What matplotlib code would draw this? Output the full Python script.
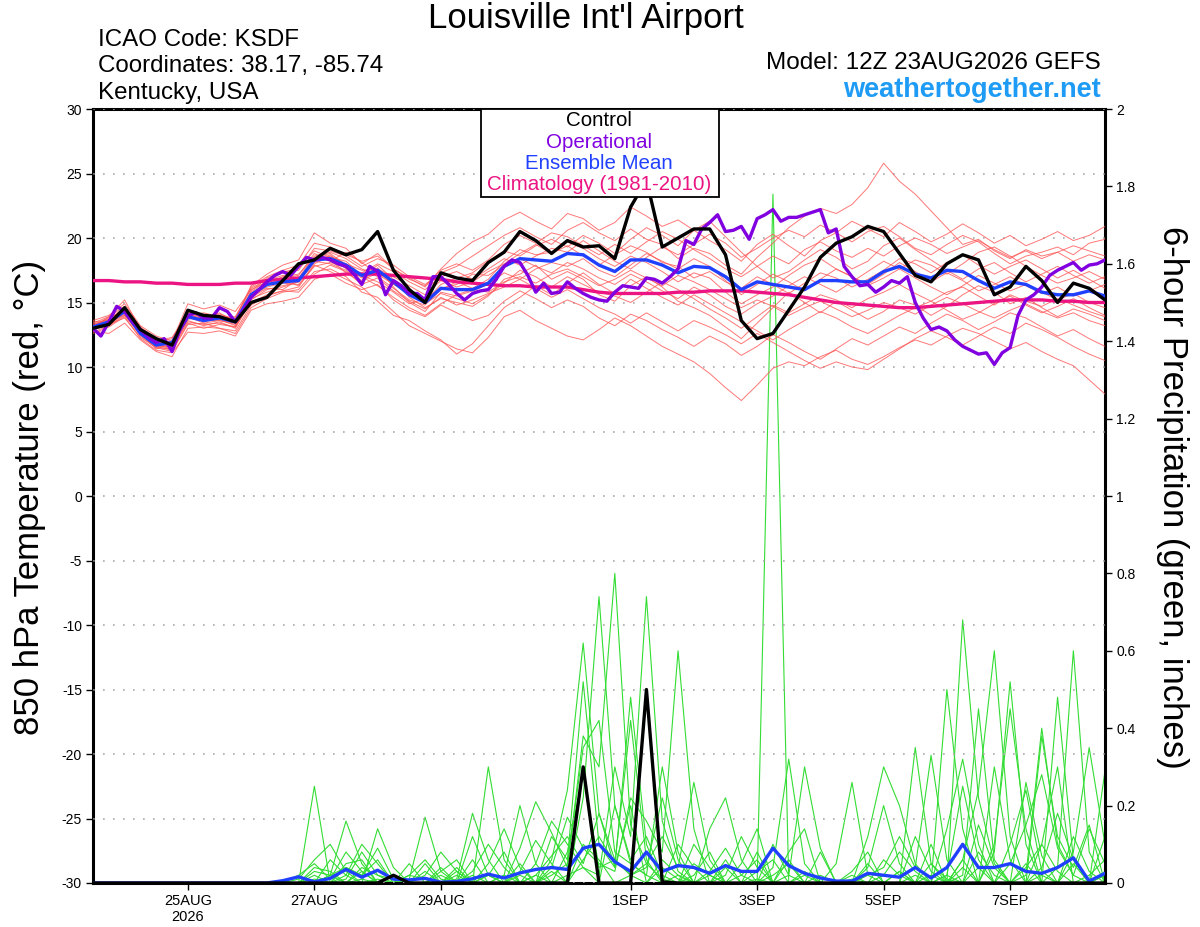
"""GEFS plume for Louisville Int'l Airport: 850 hPa temperature and 6-hour precipitation."""
import matplotlib

matplotlib.use("Agg")
import matplotlib.pyplot as plt
import pandas as pd
from matplotlib.patches import Rectangle

plt.rcParams["font.family"] = ["Liberation Sans", "DejaVu Sans"]
plt.rcParams["axes.unicode_minus"] = False

# 6-hourly ensemble times, 3-hourly operational times
times = pd.date_range("2026-08-23 12:00", periods=65, freq="6h")
times_op = pd.date_range("2026-08-23 12:00", periods=129, freq="3h")

# 850 hPa temperature (C)
t_control = [13.0, 13.3, 14.6, 12.9, 12.2, 11.7, 14.4, 14.0, 13.9, 13.5,
             15.0, 15.4, 16.7, 18.0, 18.3, 19.2, 18.7, 19.1, 20.5, 17.5,
             16.0, 15.0, 17.3, 16.9, 16.7, 18.1, 18.9, 20.5, 19.8, 18.8,
             19.8, 19.3, 19.4, 18.4, 22.4, 24.5, 19.3, 20.0, 20.7, 20.7,
             18.7, 13.6, 12.2, 12.6, 14.4, 16.2, 18.5, 19.6, 20.1, 20.9,
             20.5, 18.8, 17.1, 16.6, 18.0, 18.7, 18.3, 15.6, 16.2, 17.8,
             16.7, 15.0, 16.5, 16.1, 15.2]
t_mean = [13.1, 13.5, 14.3, 12.6, 11.7, 11.9, 13.9, 13.6, 13.8, 13.5,
          15.6, 16.4, 16.6, 16.7, 18.3, 18.4, 17.9, 17.1, 17.5, 16.6,
          15.6, 15.0, 16.1, 16.0, 16.0, 16.5, 17.8, 18.4, 18.3, 18.2,
          18.8, 18.7, 17.9, 17.4, 18.3, 18.3, 17.9, 17.3, 17.8, 17.7,
          17.0, 16.0, 16.6, 16.4, 16.2, 16.0, 16.7, 16.7, 16.6, 16.6,
          17.4, 17.8, 17.2, 16.9, 17.5, 17.4, 16.7, 16.1, 16.6, 16.4,
          15.8, 15.6, 15.6, 15.9, 15.5]
t_clim = [16.7, 16.7, 16.6, 16.6, 16.5, 16.5, 16.4, 16.4, 16.4, 16.5,
          16.5, 16.7, 16.8, 16.9, 17.0, 17.1, 17.2, 17.2, 17.2, 17.1,
          17.0, 16.9, 16.8, 16.6, 16.5, 16.4, 16.3, 16.3, 16.2, 16.2,
          16.2, 16.0, 15.8, 15.7, 15.7, 15.7, 15.7, 15.8, 15.8, 15.9,
          15.9, 15.9, 15.8, 15.7, 15.6, 15.4, 15.2, 15.0, 14.9, 14.8,
          14.7, 14.6, 14.6, 14.7, 14.8, 14.9, 15.0, 15.1, 15.2, 15.2,
          15.2, 15.1, 15.1, 15.0, 15.0]
t_oper = [13.0, 12.4, 13.5, 14.7, 14.3, 13.5, 12.9, 12.3, 11.9, 12.2,
          11.2, 12.9, 14.0, 14.2, 13.8, 13.8, 14.6, 14.3, 13.5, 14.4,
          15.4, 16.0, 16.6, 17.1, 17.4, 17.1, 17.8, 18.5, 18.3, 18.5,
          18.3, 18.0, 17.8, 17.2, 16.4, 17.8, 17.4, 15.6, 16.7, 16.3,
          15.7, 15.7, 15.2, 17.0, 17.0, 16.4, 15.7, 15.2, 15.7, 15.9,
          16.0, 16.8, 17.8, 18.3, 18.1, 17.1, 15.8, 16.5, 15.7, 15.8,
          16.6, 16.1, 15.7, 15.4, 15.2, 15.1, 15.8, 16.3, 16.2, 16.1,
          16.9, 16.8, 16.5, 17.0, 17.6, 19.8, 19.5, 20.7, 21.2, 21.8,
          20.5, 20.6, 20.9, 19.9, 21.5, 21.8, 22.2, 21.3, 21.6, 21.6,
          21.8, 22.0, 22.2, 20.4, 20.7, 17.8, 17.0, 16.3, 16.4, 15.8,
          16.2, 16.7, 16.5, 17.0, 15.0, 13.8, 12.9, 13.1, 12.8, 12.1,
          11.6, 11.3, 11.0, 11.1, 10.2, 11.1, 11.5, 14.0, 15.2, 15.6,
          16.2, 17.1, 17.5, 17.8, 18.1, 17.5, 17.9, 18.0, 18.3]

t_members = [
    [13.4, 13.9, 15.2, 12.9, 11.9, 12.2, 14.3, 13.8, 14.1, 13.7, 15.9, 16.9, 17.4, 17.5, 19.2, 19.0, 18.6, 17.8, 18.4, 17.9,
     17.0, 16.4, 17.3, 17.8, 18.6, 19.4, 20.2, 20.8, 20.1, 19.5, 20.6, 21.2, 20.4, 19.8, 20.7, 19.9, 19.5, 18.4, 19.2, 18.8,
     17.9, 17.2, 18.5, 19.6, 20.8, 21.7, 22.3, 21.9, 22.6, 23.9, 25.8, 24.4, 23.4, 22.1, 20.8, 19.5, 19.9, 19.0, 18.4, 19.1,
     18.6, 18.9, 19.4, 19.0, 18.6],
    [12.8, 12.6, 13.4, 12.1, 11.2, 10.8, 13.0, 13.1, 13.0, 12.6, 14.6, 15.3, 15.8, 16.0, 17.4, 17.6, 17.0, 15.8, 15.4, 14.3,
     13.2, 12.6, 12.0, 11.4, 11.1, 12.3, 13.9, 14.4, 13.6, 13.0, 12.4, 12.1, 12.9, 13.8, 13.2, 12.4, 11.6, 11.0, 10.4, 9.5,
     8.4, 7.4, 8.6, 9.9, 10.4, 10.1, 10.8, 11.3, 10.6, 10.2, 10.8, 11.5, 12.1, 11.7, 12.4, 13.0, 12.6, 12.0, 11.4, 11.9,
     11.2, 10.6, 10.1, 9.0, 7.9],
    [13.2, 13.8, 14.4, 13.0, 12.1, 11.6, 14.0, 14.2, 13.9, 13.8, 16.3, 17.2, 17.9, 18.3, 20.4, 19.6, 19.2, 18.0, 18.8, 17.6,
     16.9, 16.2, 17.6, 18.8, 19.7, 20.3, 21.4, 22.0, 21.3, 20.7, 21.9, 21.5, 20.6, 21.2, 22.4, 21.7, 20.9, 21.4, 20.6, 19.8,
     19.1, 18.2, 19.5, 20.3, 19.4, 18.6, 19.8, 20.4, 19.7, 20.5, 20.9, 20.1, 19.2, 18.7, 19.5, 20.2, 19.7, 18.8, 18.0, 18.6,
     18.9, 19.3, 18.7, 19.6, 19.9],
    [12.9, 13.4, 14.1, 12.4, 11.5, 11.4, 13.6, 13.2, 13.5, 13.0, 15.2, 16.0, 16.3, 16.6, 18.1, 18.7, 17.6, 16.9, 17.9, 16.8,
     15.4, 14.6, 15.3, 15.0, 14.7, 15.5, 16.8, 17.2, 17.9, 16.8, 17.4, 16.8, 15.6, 15.1, 16.3, 17.0, 16.2, 15.1, 14.6, 14.0,
     13.1, 12.2, 13.4, 14.6, 15.8, 15.0, 14.2, 15.1, 14.4, 13.7, 14.3, 15.2, 14.8, 14.0, 14.7, 15.6, 16.3, 15.8, 14.9, 15.4,
     14.6, 13.9, 14.5, 14.1, 13.6],
    [13.6, 14.0, 14.9, 13.2, 12.4, 12.0, 14.9, 14.5, 14.8, 14.3, 16.0, 16.6, 16.9, 17.1, 18.8, 18.2, 18.9, 18.1, 17.2, 16.4,
     15.7, 15.1, 16.4, 16.9, 17.3, 18.2, 19.0, 18.6, 19.4, 19.9, 19.3, 20.2, 19.6, 18.8, 19.9, 20.8, 20.2, 19.4, 20.6, 21.3,
     20.1, 18.9, 17.8, 16.9, 17.4, 18.3, 19.1, 18.5, 17.6, 18.2, 19.4, 20.0, 19.1, 18.3, 17.5, 16.8, 17.6, 18.1, 17.3, 16.6,
     17.2, 17.8, 17.1, 16.5, 17.0],
    [12.6, 13.1, 13.9, 12.2, 11.3, 11.1, 12.7, 12.6, 12.8, 12.4, 14.4, 14.9, 15.1, 15.4, 16.8, 17.2, 16.5, 16.0, 16.4, 15.2,
     14.4, 13.9, 14.8, 14.2, 13.6, 14.0, 15.1, 15.9, 15.3, 14.6, 15.2, 14.7, 13.8, 13.2, 14.1, 13.6, 12.9, 12.3, 11.6, 12.4,
     11.8, 10.9, 11.6, 12.5, 11.9, 11.2, 10.6, 11.4, 12.2, 11.7, 12.4, 13.1, 12.6, 13.4, 14.1, 13.6, 12.9, 13.5, 14.2, 13.8,
     13.1, 12.4, 12.9, 12.2, 11.6],
    [13.3, 13.7, 14.5, 12.8, 12.0, 12.3, 14.1, 13.7, 14.0, 13.6, 15.8, 16.7, 17.1, 16.9, 18.6, 18.9, 18.4, 17.6, 17.0, 16.1,
     15.2, 14.8, 16.0, 16.6, 16.1, 16.8, 18.2, 19.1, 18.7, 18.9, 19.7, 19.2, 18.4, 17.8, 18.6, 18.1, 17.4, 16.6, 17.3, 16.9,
     15.8, 14.9, 15.6, 16.2, 17.1, 17.9, 18.4, 17.6, 17.0, 16.3, 16.9, 17.6, 18.3, 17.9, 17.2, 18.0, 18.9, 19.3, 18.6, 17.8,
     17.1, 16.5, 16.9, 17.4, 16.8],
    [12.7, 13.2, 14.0, 12.5, 11.6, 11.3, 13.4, 13.0, 13.3, 13.1, 15.0, 15.6, 15.9, 16.2, 17.9, 17.4, 16.8, 16.2, 15.1, 14.0,
     13.6, 12.8, 12.1, 11.0, 11.8, 13.2, 14.6, 15.4, 16.3, 15.6, 16.5, 17.3, 16.4, 15.7, 16.8, 16.1, 15.4, 14.8, 15.6, 14.9,
     14.2, 13.5, 12.8, 12.1, 12.9, 13.6, 14.3, 13.8, 13.1, 12.6, 13.3, 14.0, 14.6, 15.1, 14.4, 13.7, 14.2, 14.9, 15.5, 14.8,
     14.2, 14.7, 15.3, 14.6, 14.0],
    [13.0, 13.5, 14.6, 12.7, 11.8, 11.5, 13.8, 13.6, 13.6, 13.4, 15.5, 16.2, 16.5, 16.4, 17.8, 18.1, 17.7, 17.3, 18.0, 17.4,
     16.6, 16.0, 17.0, 17.4, 16.8, 17.6, 18.4, 17.9, 18.6, 19.2, 18.9, 19.8, 19.0, 18.2, 17.6, 18.5, 19.3, 18.7, 19.5, 20.3,
     19.6, 18.5, 19.2, 20.0, 20.6, 20.1, 21.0, 20.4, 21.3, 20.7, 20.1, 21.2, 20.5, 19.7, 20.3, 21.1, 20.4, 19.6, 20.2, 19.4,
     19.9, 20.5, 19.8, 20.2, 20.9],
    [13.5, 13.6, 14.2, 12.6, 11.4, 11.8, 13.7, 13.9, 13.7, 13.2, 15.4, 16.1, 16.0, 16.8, 18.4, 18.3, 17.3, 16.6, 17.7, 16.2,
     15.0, 14.3, 15.8, 15.5, 15.9, 16.4, 17.3, 16.8, 17.6, 18.1, 17.8, 18.4, 17.5, 17.0, 17.9, 18.8, 18.2, 17.6, 18.4, 17.8,
     16.7, 15.6, 16.4, 17.2, 16.6, 15.9, 16.8, 17.6, 17.0, 16.4, 17.2, 18.1, 17.4, 16.6, 17.3, 16.7, 15.9, 16.4, 17.0, 16.3,
     15.7, 16.2, 15.5, 15.9, 16.4],
    [12.9, 13.3, 13.8, 12.3, 11.5, 11.2, 13.3, 13.4, 13.0, 12.8, 14.8, 15.5, 15.9, 15.8, 17.2, 17.9, 17.4, 16.4, 16.9, 15.9,
     15.1, 14.5, 15.4, 14.8, 15.2, 15.7, 16.2, 16.8, 16.1, 15.4, 16.0, 15.3, 14.6, 14.1, 13.4, 14.2, 13.5, 12.8, 13.6, 13.1,
     12.5, 11.8, 12.6, 11.9, 11.2, 10.5, 9.9, 10.4, 10.0, 9.8, 10.6, 11.4, 12.2, 12.8, 12.3, 11.7, 12.4, 13.1, 12.6, 13.4,
     12.9, 12.3, 11.6, 11.0, 10.5],
    [13.1, 13.9, 14.7, 13.1, 12.2, 11.9, 14.2, 13.5, 13.8, 13.9, 16.1, 16.8, 17.3, 17.7, 19.0, 18.5, 18.2, 17.1, 16.6, 15.8,
     14.9, 15.3, 16.1, 16.4, 17.2, 17.1, 17.9, 18.4, 17.8, 17.3, 18.1, 17.6, 16.9, 16.4, 17.2, 16.6, 15.9, 15.3, 16.2, 15.6,
     14.7, 14.1, 14.9, 15.5, 16.3, 17.0, 16.4, 15.8, 16.6, 17.4, 18.2, 17.6, 16.9, 16.2, 15.6, 16.3, 17.1, 16.5, 15.9, 16.4,
     15.8, 15.2, 15.7, 15.0, 14.6],
    [13.4, 13.5, 14.0, 12.7, 12.0, 11.7, 14.0, 13.8, 14.2, 13.5, 15.6, 16.4, 16.7, 16.3, 18.0, 18.6, 18.0, 17.5, 17.6, 17.0,
     16.3, 15.6, 16.7, 16.2, 16.6, 17.4, 18.0, 18.8, 19.5, 18.8, 19.4, 18.6, 17.9, 18.7, 19.4, 18.9, 18.1, 17.8, 16.9, 17.4,
     16.6, 16.1, 17.0, 16.4, 15.7, 16.5, 17.3, 16.9, 16.2, 16.8, 17.5, 18.4, 18.0, 17.3, 18.1, 18.7, 17.9, 17.2, 17.8, 18.3,
     17.6, 16.9, 17.5, 16.8, 16.1],
    [12.8, 13.6, 14.4, 12.5, 11.6, 11.6, 13.5, 13.3, 13.4, 13.1, 15.3, 15.8, 16.2, 16.6, 18.2, 18.0, 17.5, 16.7, 17.3, 16.5,
     15.8, 14.9, 15.7, 15.3, 14.9, 15.6, 16.5, 17.5, 17.0, 16.2, 17.0, 16.4, 15.8, 15.5, 15.0, 15.8, 16.6, 16.0, 15.3, 14.5,
     13.8, 13.0, 13.9, 14.8, 14.2, 14.9, 15.6, 15.2, 14.6, 15.3, 15.8, 16.4, 15.7, 15.1, 15.8, 16.2, 15.5, 14.8, 15.6, 15.1,
     14.7, 15.3, 14.8, 14.3, 13.9],
    [13.0, 13.2, 14.2, 12.6, 11.7, 11.4, 13.9, 13.4, 13.6, 13.3, 15.7, 16.5, 17.0, 17.2, 18.5, 18.8, 17.9, 17.0, 16.3, 15.4,
     14.6, 14.0, 14.9, 15.6, 16.0, 15.8, 16.6, 17.0, 16.5, 17.2, 17.6, 17.0, 16.3, 16.8, 17.5, 16.9, 16.3, 17.1, 16.6, 16.0,
     15.3, 14.6, 15.2, 14.7, 14.0, 14.6, 15.1, 14.5, 13.9, 14.4, 15.0, 14.6, 14.1, 14.8, 15.4, 14.9, 14.3, 13.8, 14.4, 14.9,
     14.3, 13.8, 14.2, 13.6, 13.2],
    [13.2, 13.7, 14.6, 12.8, 11.9, 11.8, 14.1, 13.9, 14.0, 13.7, 16.2, 17.0, 17.5, 17.9, 19.6, 19.3, 18.7, 18.2, 18.6, 17.6,
     16.8, 16.3, 17.5, 18.0, 17.5, 18.3, 19.5, 20.2, 19.6, 20.4, 20.1, 19.4, 18.7, 19.5, 18.8, 19.7, 20.5, 19.9, 19.1, 18.4,
     17.6, 17.0, 17.8, 18.6, 18.0, 19.1, 19.7, 19.0, 18.5, 19.2, 18.6, 19.4, 20.0, 19.5, 18.8, 19.3, 19.8, 19.1, 18.5, 19.0,
     18.4, 18.9, 18.2, 18.7, 18.3],
]

# 6-hour precipitation (inches)
p_control = [0.0] * 19 + [0.02] + [0.0] * 11 + [0.30, 0.0, 0.0, 0.0, 0.50, 0.003] + [0.0] * 28
p_mean = [0.0] * 12 + [
    0.006, 0.016, 0.003, 0.012, 0.035, 0.015, 0.033, 0.010, 0.008, 0.012,
    0.002, 0.004, 0.011, 0.023, 0.013, 0.026, 0.035, 0.040, 0.035, 0.090,
    0.100, 0.055, 0.030, 0.080, 0.030, 0.045, 0.040, 0.025, 0.045, 0.030,
    0.030, 0.090, 0.045, 0.025, 0.013, 0.005, 0.005, 0.025, 0.020, 0.015,
    0.040, 0.013, 0.040, 0.100, 0.040, 0.040, 0.050, 0.030, 0.025, 0.040,
    0.065, 0.005, 0.025]
p_members = [
    [0.0] * 11 + [0, 0, 0.02, 0.05, 0.01, 0.08, 0.03, 0.0, 0.0, 0.02, 0.06, 0.01, 0.0, 0.03, 0.10, 0.04, 0.0, 0.02, 0.07, 0.12,
                  0.05, 0.18, 0.06, 0.02, 0.0, 0.04, 0.01, 0.0, 0.03, 0.09, 0.02, 0.0, 1.78, 0.0, 0.02, 0.0, 0.0, 0.01, 0.0, 0.0,
                  0.03, 0.0, 0.05, 0.01, 0.0, 0.08, 0.02, 0.0, 0.04, 0.10, 0.03, 0.0, 0.02, 0.06],
    [0.0] * 11 + [0, 0, 0, 0.25, 0.0, 0.04, 0.02, 0.09, 0.01, 0.0, 0.0, 0.04, 0.0, 0.12, 0.02, 0.0, 0.09, 0.21, 0.13, 0.04,
                  0.38, 0.30, 0.80, 0.15, 0.05, 0.01, 0.0, 0.02, 0.08, 0.0, 0.0, 0.01, 0.0, 0.0, 0.03, 0.0, 0.0, 0.0, 0.12, 0.30,
                  0.20, 0.05, 0.0, 0.14, 0.32, 0.10, 0.0, 0.05, 0.15, 0.28, 0.09, 0.02, 0.14, 0.05],
    [0.0] * 11 + [0, 0, 0.01, 0.06, 0.10, 0.03, 0.0, 0.14, 0.04, 0.0, 0.05, 0.0, 0.01, 0.18, 0.06, 0.0, 0.03, 0.11, 0.05, 0.0,
                  0.22, 0.74, 0.20, 0.06, 0.12, 0.02, 0.0, 0.10, 0.04, 0.0, 0.05, 0.14, 0.0, 0.02, 0.30, 0.09, 0.0, 0.0, 0.05, 0.0,
                  0.0, 0.12, 0.03, 0.0, 0.06, 0.24, 0.60, 0.12, 0.0, 0.04, 0.18, 0.06, 0.0, 0.03],
    [0.0] * 11 + [0, 0, 0, 0.03, 0.02, 0.16, 0.05, 0.0, 0.0, 0.01, 0.17, 0.03, 0.0, 0.0, 0.02, 0.08, 0.0, 0.05, 0.16, 0.10,
                  0.04, 0.02, 0.30, 0.12, 0.74, 0.16, 0.03, 0.0, 0.0, 0.06, 0.0, 0.0, 0.04, 0.32, 0.05, 0.0, 0.0, 0.02, 0.0, 0.06,
                  0.02, 0.0, 0.10, 0.0, 0.68, 0.22, 0.05, 0.0, 0.26, 0.07, 0.0, 0.12, 0.03, 0.0],
    [0.0] * 11 + [0, 0, 0, 0.0, 0.06, 0.02, 0.10, 0.05, 0.0, 0.0, 0.02, 0.08, 0.03, 0.0, 0.30, 0.06, 0.0, 0.0, 0.04, 0.17,
                  0.09, 0.05, 0.03, 0.22, 0.16, 0.08, 0.60, 0.14, 0.0, 0.0, 0.02, 0.06, 0.0, 0.0, 0.0, 0.08, 0.0, 0.0, 0.02, 0.04,
                  0.12, 0.04, 0.33, 0.06, 0.0, 0.0, 0.10, 0.45, 0.14, 0.0, 0.04, 0.60, 0.08, 0.0],
    [0.0] * 11 + [0, 0, 0.0, 0.02, 0.0, 0.01, 0.08, 0.02, 0.0, 0.05, 0.0, 0.02, 0.0, 0.06, 0.0, 0.02, 0.20, 0.05, 0.0, 0.08,
                  0.28, 0.04, 0.06, 0.02, 0.05, 0.12, 0.04, 0.26, 0.06, 0.0, 0.0, 0.08, 0.0, 0.0, 0.0, 0.02, 0.0, 0.0, 0.0, 0.02,
                  0.08, 0.03, 0.0, 0.02, 0.0, 0.15, 0.04, 0.0, 0.02, 0.40, 0.10, 0.02, 0.0, 0.29],
    [0.0] * 11 + [0, 0, 0.0, 0.04, 0.03, 0.0, 0.04, 0.02, 0.01, 0.0, 0.0, 0.03, 0.06, 0.0, 0.02, 0.0, 0.05, 0.0, 0.12, 0.06,
                  0.52, 0.10, 0.04, 0.20, 0.0, 0.06, 0.02, 0.0, 0.14, 0.22, 0.06, 0.0, 0.0, 0.06, 0.0, 0.0, 0.05, 0.26, 0.02, 0.0,
                  0.0, 0.0, 0.02, 0.0, 0.04, 0.0, 0.30, 0.06, 0.0, 0.02, 0.0, 0.08, 0.35, 0.10],
    [0.0] * 11 + [0, 0, 0.0, 0.01, 0.0, 0.05, 0.06, 0.0, 0.02, 0.0, 0.03, 0.0, 0.02, 0.0, 0.05, 0.14, 0.04, 0.0, 0.02, 0.05,
                  0.35, 0.42, 0.08, 0.05, 0.02, 0.0, 0.10, 0.04, 0.0, 0.02, 0.12, 0.04, 0.0, 0.0, 0.0, 0.0, 0.0, 0.03, 0.08, 0.0,
                  0.0, 0.35, 0.05, 0.0, 0.0, 0.04, 0.0, 0.10, 0.24, 0.03, 0.0, 0.05, 0.0, 0.02],
    [0.0] * 11 + [0, 0, 0.0, 0.0, 0.02, 0.04, 0.02, 0.06, 0.0, 0.0, 0.0, 0.0, 0.03, 0.0, 0.0, 0.02, 0.0, 0.0, 0.03, 0.0,
                  0.06, 0.12, 0.05, 0.42, 0.06, 0.0, 0.02, 0.0, 0.0, 0.04, 0.0, 0.0, 0.0, 0.08, 0.14, 0.0, 0.0, 0.0, 0.0, 0.0,
                  0.03, 0.0, 0.0, 0.0, 0.02, 0.45, 0.06, 0.0, 0.0, 0.10, 0.30, 0.0, 0.0, 0.02],
    [0.0] * 11 + [0, 0, 0.0, 0.0, 0.0, 0.0, 0.01, 0.0, 0.0, 0.0, 0.0, 0.0, 0.0, 0.0, 0.0, 0.0, 0.0, 0.02, 0.0, 0.0,
                  0.10, 0.06, 0.0, 0.02, 0.04, 0.22, 0.06, 0.0, 0.0, 0.0, 0.0, 0.0, 0.02, 0.05, 0.0, 0.0, 0.0, 0.0, 0.0, 0.0,
                  0.0, 0.0, 0.0, 0.0, 0.06, 0.0, 0.0, 0.0, 0.05, 0.0, 0.0, 0.0, 0.0, 0.0],
    [0.0] * 11 + [0, 0, 0, 0.0, 0.0, 0.02, 0.0, 0.01, 0.0, 0.0, 0.0, 0.0, 0.0, 0.02, 0.0, 0.0, 0.0, 0.0, 0.06, 0.24,
                  0.62, 0.18, 0.04, 0.48, 0.10, 0.0, 0.0, 0.05, 0.02, 0.0, 0.0, 0.0, 0.10, 0.02, 0.0, 0.0, 0.0, 0.0, 0.0, 0.0,
                  0.0, 0.02, 0.0, 0.50, 0.14, 0.0, 0.08, 0.52, 0.10, 0.0, 0.48, 0.06, 0.0, 0.12],
    [0.0] * 11 + [0, 0, 0, 0.0, 0.02, 0.0, 0.03, 0.0, 0.0, 0.02, 0.01, 0.0, 0.04, 0.0, 0.0, 0.0, 0.02, 0.0, 0.0, 0.02,
                  0.04, 0.0, 0.20, 0.05, 0.02, 0.30, 0.08, 0.0, 0.02, 0.0, 0.0, 0.03, 0.06, 0.0, 0.0, 0.0, 0.0, 0.0, 0.04, 0.20,
                  0.05, 0.0, 0.0, 0.02, 0.25, 0.06, 0.0, 0.0, 0.0, 0.38, 0.12, 0.04, 0.15, 0.0],
]

tick_dates = pd.to_datetime(["2026-08-25", "2026-08-27", "2026-08-29", "2026-09-01",
                             "2026-09-03", "2026-09-05", "2026-09-07"])
tick_labels = ["25AUG\n2026", "27AUG", "29AUG", "1SEP", "3SEP", "5SEP", "7SEP"]
temp_ticks = list(range(-30, 31, 5))
precip_ticks = [0, 0.2, 0.4, 0.6, 0.8, 1, 1.2, 1.4, 1.6, 1.8, 2]
precip_labels = ["0", "0.2", "0.4", "0.6", "0.8", "1", "1.2", "1.4", "1.6", "1.8", "2"]

legend_items = [("Control", "black"), ("Operational", "#8000E0"),
                ("Ensemble Mean", "#2040FF"), ("Climatology (1981-2010)", "#EB1482")]

fig = plt.figure(figsize=(12, 9.27), dpi=100)
rect = [93 / 1200, 1 - 883 / 927, 1012 / 1200, 774 / 927]

# bottom layer: precip members (right axis)
ax_p = fig.add_axes(rect)
ax_t = ax_p.twinx()
ax_l = ax_p.twinx()

for m in p_members:
    ax_p.plot(times, m, color="#33DD33", lw=0.8)
ax_p.set_ylim(0, 2)
ax_p.yaxis.tick_right()
ax_p.set_yticks(precip_ticks)
ax_p.set_yticklabels(precip_labels)

# temperature layer (left axis)
ax_t.yaxis.tick_left()
ax_t.set_ylim(-30, 30)
ax_t.set_yticks(temp_ticks)
ax_t.set_yticklabels([str(v) for v in temp_ticks])
ax_t.grid(axis="y", color="#aaaaaa", linestyle=(0, (1, 5)), lw=1.2)
for m in t_members:
    ax_t.plot(times, m, color="#FF5555", lw=0.7, alpha=0.8)
ax_t.plot(times, t_clim, color="#EB1482", lw=2.4)
ax_t.plot(times, t_mean, color="#2040FF", lw=2.4)
ax_t.plot(times_op, t_oper, color="#8000E0", lw=2.4)
ax_t.plot(times, t_control, color="black", lw=2.4)

# top layer: control and mean precipitation, legend box
ax_l.set_ylim(0, 2)
ax_l.set_yticks([])
ax_l.plot(times, p_mean, color="#2040FF", lw=2.4)
ax_l.plot(times, p_control, color="black", lw=2.4)
ax_l.add_patch(Rectangle((0.3834, 0.8863), 0.2352, 0.1137, transform=ax_l.transAxes,
                         facecolor="white", edgecolor="black", lw=1.3, zorder=10))
for k, (label, color) in enumerate(legend_items):
    ax_l.text(0.5, 0.9845 - k * 0.0275, label, color=color, fontsize=14.8,
              ha="center", va="center", transform=ax_l.transAxes, zorder=11)

ax_p.set_xlim(times[0], times[-1])
ax_p.set_xticks(tick_dates)
ax_p.set_xticklabels(tick_labels, fontsize=10.5)

for a in (ax_p, ax_t, ax_l):
    for s in a.spines.values():
        s.set_visible(False)
for s in ax_p.spines.values():
    s.set_visible(True)
    s.set_linewidth(2.2)
ax_p.tick_params(axis="x", length=5, width=1, pad=3)
ax_p.tick_params(axis="y", length=5, width=1, labelsize=10, pad=3)
ax_t.tick_params(axis="y", length=5, width=1, labelsize=10, pad=3)

fig.text(0.488, 0.980, "Louisville Int'l Airport", fontsize=25, ha="center", va="center")
fig.text(0.0817, 0.957, "ICAO Code: KSDF", fontsize=17.4, ha="left", va="center")
fig.text(0.0817, 0.929, "Coordinates: 38.17, -85.74", fontsize=17.4, ha="left", va="center")
fig.text(0.0817, 0.900, "Kentucky, USA", fontsize=17.4, ha="left", va="center")
fig.text(0.9175, 0.932, "Model: 12Z 23AUG2026 GEFS", fontsize=17.5, ha="right", va="center")
fig.text(0.9175, 0.903, "weathertogether.net", fontsize=19.5, fontweight="bold",
         color="#1E9BF5", ha="right", va="center")
fig.text(0.025, 0.463, "850 hPa Temperature (red, °C)", fontsize=25, rotation=90,
         ha="center", va="center")
fig.text(0.977, 0.463, "6-hour Precipitation (green, inches)", fontsize=25, rotation=-90,
         ha="center", va="center")

fig.savefig("out.png", dpi=100)
